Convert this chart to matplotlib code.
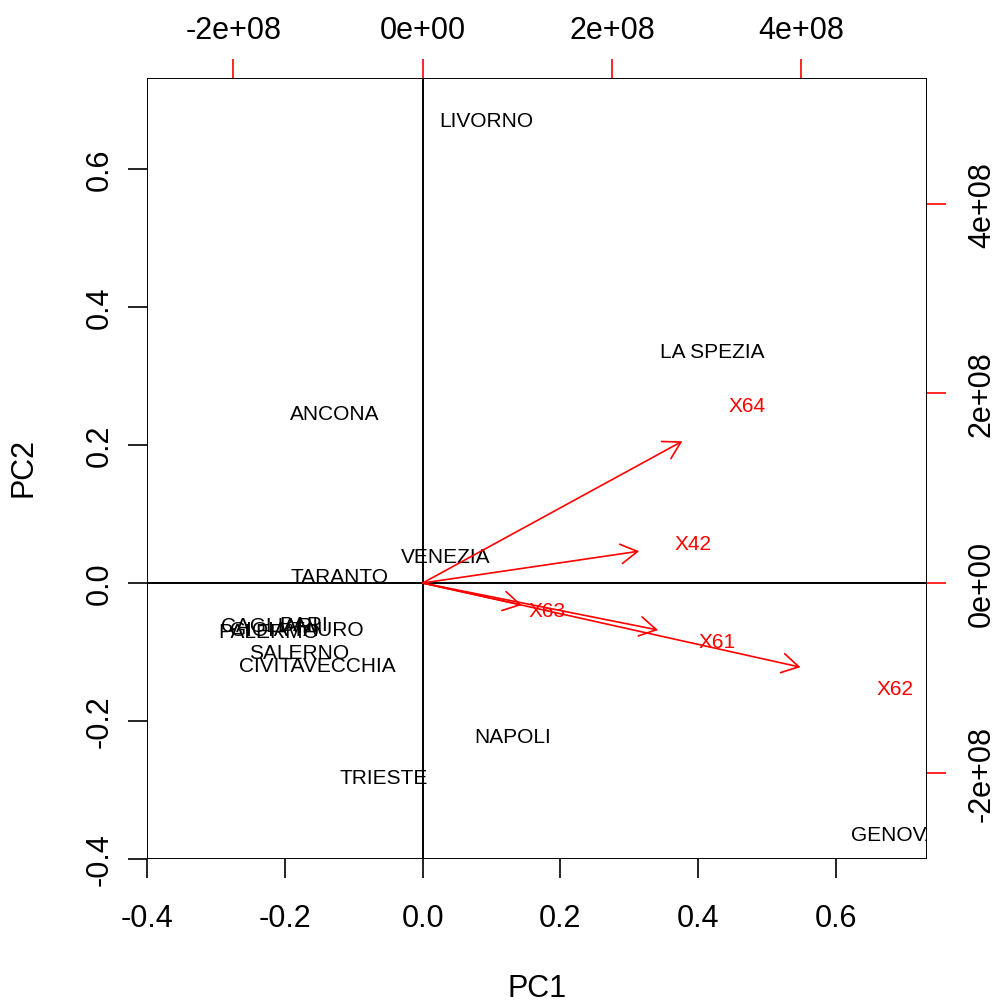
import numpy as np
import matplotlib
matplotlib.use("Agg")
import matplotlib.pyplot as plt
from matplotlib.ticker import FuncFormatter

plt.rcParams['font.family'] = ['Liberation Sans', 'DejaVu Sans']

# PC scores of the ports
ports = ["LIVORNO", "LA SPEZIA", "ANCONA", "VENEZIA", "TARANTO",
         "CAGLIARI", "PALERMO", "BARI", "GIOIA TAURO", "SALERNO",
         "CIVITAVECCHIA", "NAPOLI", "TRIESTE", "GENOVA"]
pc1 = [0.093, 0.420, -0.127, 0.033, -0.120,
       -0.222, -0.224, -0.172, -0.183, -0.179,
       -0.153, 0.131, -0.057, 0.685]
pc2 = [0.670, 0.335, 0.245, 0.038, 0.009,
       -0.061, -0.070, -0.060, -0.067, -0.100,
       -0.119, -0.223, -0.282, -0.364]

# variable loadings (secondary scale)
variables = ["X64", "X42", "X63", "X61", "X62"]
load1 = [3.43e8, 2.86e8, 1.31e8, 3.11e8, 4.99e8]
load2 = [1.87e8, 0.42e8, -0.29e8, -0.62e8, -1.11e8]

lims = (-0.4, 0.732)
ratio = 7.28e8

W, H = 999, 1003
fig = plt.figure(figsize=(W / 100, H / 100), dpi=100)
ax = fig.add_axes([147 / W, (H - 860) / H, 780 / W, 781 / H])
ax.set_xlim(lims)
ax.set_ylim(lims)

for name, x, y in zip(ports, pc1, pc2):
    ax.text(x, y, name, ha='center', va='center', fontsize=15, clip_on=True)

ticks = [-0.4, -0.2, 0.0, 0.2, 0.4, 0.6]
ax.set_xticks(ticks)
ax.set_yticks(ticks)
ax.xaxis.set_major_formatter(FuncFormatter(lambda v, p: f"{v:.1f}"))
ax.yaxis.set_major_formatter(FuncFormatter(lambda v, p: f"{v:.1f}"))
ax.tick_params(length=13.7, width=1.2, labelsize=22)
ax.tick_params(axis='x', pad=18)
ax.tick_params(axis='y', pad=9.5)
for lab in ax.get_yticklabels():
    lab.set_rotation(90)
    lab.set_va('center')
for s in ax.spines.values():
    s.set_visible(False)

fig.text(537 / W, 1 - 989 / H, "PC1", fontsize=22, ha='center', va='center')
fig.text(24 / W, 1 - 468 / H, "PC2", fontsize=22, ha='center', va='center',
         rotation=90)

# secondary axes for the loadings
ax2 = fig.add_axes(ax.get_position(), frameon=False)
ax2.set_xlim(lims[0] * ratio, lims[1] * ratio)
ax2.set_ylim(lims[0] * ratio, lims[1] * ratio)
ax2.xaxis.tick_top()
ax2.yaxis.tick_right()
ax2.set_xticks([-2e8, 0, 2e8, 4e8])
ax2.set_yticks([-2e8, 0, 2e8, 4e8])


def sci(v, p):
    if v == 0:
        return "0e+00"
    e = int(np.floor(np.log10(abs(v))))
    return f"{v / 10**e:.0f}e+{e:02d}"


ax2.xaxis.set_major_formatter(FuncFormatter(sci))
ax2.yaxis.set_major_formatter(FuncFormatter(sci))
ax2.tick_params(length=13.7, width=1.2, labelsize=22, color='red')
ax2.tick_params(axis='x', pad=10)
ax2.tick_params(axis='y', pad=15)
for lab in ax2.get_yticklabels():
    lab.set_rotation(90)
    lab.set_va('center')

ax2.axhline(0, color='black', lw=1.4)
ax2.axvline(0, color='black', lw=1.4)

for name, x, y in zip(variables, load1, load2):
    ax2.annotate("", xy=(0.8 * x, 0.8 * y), xytext=(0, 0),
                 arrowprops=dict(arrowstyle='->,head_length=1.2,head_width=0.7',
                                 color='red', lw=1.2, shrinkA=0, shrinkB=0,
                                 mutation_scale=10))
    ax2.text(x, y, name, color='red', ha='center', va='center', fontsize=15)

# box around the plot region
ax2.add_patch(plt.Rectangle((0, 0), 1, 1, transform=ax2.transAxes,
                            fill=False, lw=1.4, color='black'))

fig.savefig("out.png", dpi=100)
